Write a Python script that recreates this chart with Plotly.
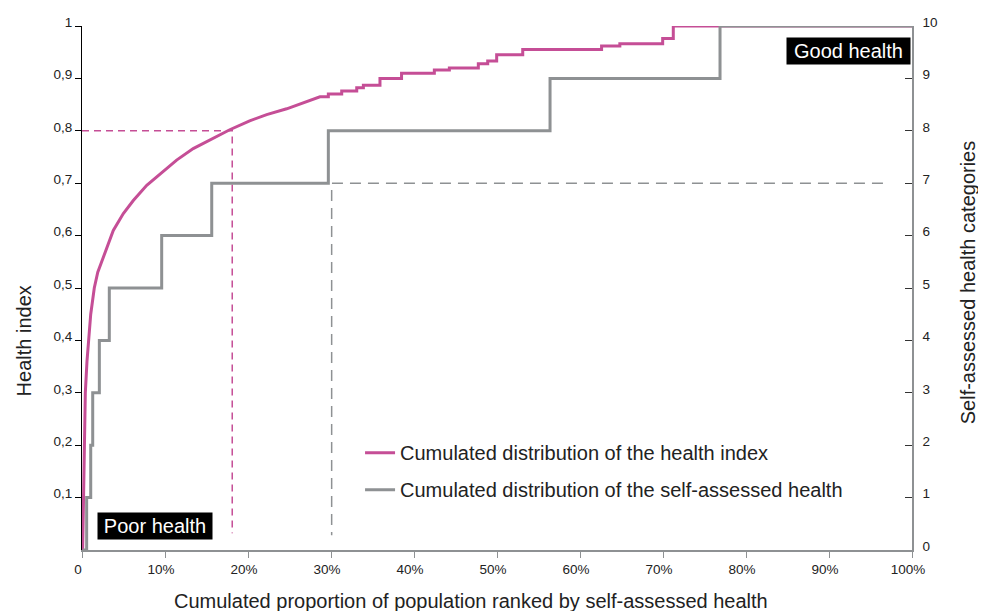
import plotly.graph_objects as go

# ---------------- data ----------------
# Health index cumulated distribution (smooth lower part): cumulated proportion, index value
hi_smooth_p = [0.0008, 0.0020, 0.0026, 0.0032, 0.0040, 0.0060, 0.0076, 0.0105, 0.0148, 0.0190,
               0.0237, 0.0298, 0.0377, 0.0498, 0.0618, 0.0780, 0.0940, 0.1140, 0.1340, 0.1540,
               0.1780, 0.2020, 0.2225, 0.2466, 0.2707]
hi_smooth_v = [0.000, 0.100, 0.200, 0.250, 0.300, 0.360, 0.400, 0.450, 0.500, 0.530,
               0.550, 0.575, 0.610, 0.642, 0.667, 0.696, 0.718, 0.744, 0.766, 0.782,
               0.802, 0.819, 0.831, 0.842, 0.855]
# Health index upper part (stepped): proportion at which the level starts, level
hi_step_p = [0.2867, 0.2968, 0.3129, 0.3310, 0.3390, 0.3590, 0.3850, 0.4245, 0.4426,
             0.4775, 0.4888, 0.4996, 0.5310, 0.6260, 0.6480, 0.6996, 0.7124, 1.0]
hi_step_v = [0.865, 0.870, 0.876, 0.882, 0.887, 0.900, 0.910, 0.916, 0.920,
             0.928, 0.933, 0.945, 0.955, 0.962, 0.966, 0.976, 1.000, 1.000]

# Self-assessed health categories: category and cumulated proportion boundaries
sah_categories = [0, 1, 2, 3, 4, 5, 6, 7, 8, 9, 10]
sah_bounds = [0.0008, 0.0056, 0.0105, 0.0129, 0.0209, 0.0329, 0.0960, 0.1563, 0.2968, 0.5639, 0.7687, 1.0]

# Reference (dashed) lines
pink_ref_x = [0.0, 0.181, 0.181]
pink_ref_y = [0.80, 0.80, 0.032]
grey_ref_x = [0.965, 0.3008, 0.3008]
grey_ref_y = [7.0, 7.0, 0.28]

x_tickvals = [0, 0.1, 0.2, 0.3, 0.4, 0.5, 0.6, 0.7, 0.8, 0.9, 1.0]
x_ticktext = ["0", "10%", "20%", "30%", "40%", "50%", "60%", "70%", "80%", "90%", "100%"]
y_tickvals = [0.1, 0.2, 0.3, 0.4, 0.5, 0.6, 0.7, 0.8, 0.9, 1.0]
y_ticktext = ["0,1", "0,2", "0,3", "0,4", "0,5", "0,6", "0,7", "0,8", "0,9", "1"]
y2_tickvals = [0, 1, 2, 3, 4, 5, 6, 7, 8, 9, 10]

PINK = "#c54e96"
GREY = "#8e9193"
FONT = "Liberation Sans, Arial, sans-serif"

# build pink curve vertices
hi_x = list(hi_smooth_p)
hi_y = list(hi_smooth_v)
for i in range(len(hi_step_p) - 1):
    hi_x += [hi_step_p[i], hi_step_p[i + 1]]
    hi_y += [hi_step_v[i], hi_step_v[i]]

# build grey step vertices
sah_x, sah_y = [], []
for i, c in enumerate(sah_categories):
    sah_x += [sah_bounds[i], sah_bounds[i + 1]]
    sah_y += [c, c]

fig = go.Figure()

fig.add_trace(go.Scatter(x=pink_ref_x, y=pink_ref_y, mode="lines", yaxis="y",
                         line=dict(color=PINK, width=1.5, dash="7px,5px"),
                         showlegend=False, hoverinfo="skip"))
fig.add_trace(go.Scatter(x=grey_ref_x, y=grey_ref_y, mode="lines", yaxis="y2",
                         line=dict(color=GREY, width=1.5, dash="11px,7px"),
                         showlegend=False, hoverinfo="skip"))
fig.add_trace(go.Scatter(x=hi_x, y=hi_y, mode="lines", yaxis="y",
                         name="Cumulated distribution of the health index",
                         line=dict(color=PINK, width=3), legendgroup="a"))
fig.add_trace(go.Scatter(x=sah_x, y=sah_y, mode="lines", yaxis="y2",
                         name="Cumulated distribution of the self-assessed health",
                         line=dict(color=GREY, width=3), legendgroup="b"))

fig.update_layout(
    width=986, height=611,
    margin=dict(l=74, r=82, t=18, b=69, pad=0, autoexpand=False),
    paper_bgcolor="white", plot_bgcolor="white",
    font=dict(family=FONT, size=13, color="#222"),
    xaxis=dict(range=[0, 1], tickvals=x_tickvals, ticktext=x_ticktext, automargin=False,
               showgrid=False, zeroline=False, showline=True, linecolor=GREY, linewidth=1.5,
               ticks="outside", ticklen=6, tickcolor=GREY, tickwidth=1,
               tickfont=dict(size=13.5, color="#222"), ticklabelshift=-4),
    yaxis=dict(range=[0, 1], tickvals=y_tickvals, ticktext=y_ticktext, automargin=False,
               showgrid=False, zeroline=False, showline=True, linecolor="#000", linewidth=1,
               ticks="outside", ticklen=6, tickcolor="#000", tickwidth=1,
               tickfont=dict(size=13.5, color="#222"), ticklabelshift=-4),
    yaxis2=dict(range=[0, 10], tickvals=y2_tickvals, overlaying="y", side="right", automargin=False,
                showgrid=False, zeroline=False, showline=True, linecolor=GREY, linewidth=1.5,
                ticks="inside", ticklen=7, tickcolor="#333", tickwidth=1,
                tickfont=dict(size=13.5, color="#222"), ticklabelshift=-4, ticklabelstandoff=6),
    legend=dict(x=0.335, y=0.223, xanchor="left", yanchor="top",
                bgcolor="rgba(0,0,0,0)", font=dict(size=20, color="#222"),
                tracegroupgap=8, itemwidth=30),
    showlegend=True,
)

fig.add_annotation(x=0.088, y=0.045, xref="paper", yref="paper", text="Poor health",
                   showarrow=False, bgcolor="#000", font=dict(color="white", size=20),
                   width=114, height=26, borderpad=0, xanchor="center", yanchor="middle")
fig.add_annotation(x=0.9233, y=0.9527, xref="paper", yref="paper", text="Good health",
                   showarrow=False, bgcolor="#000", font=dict(color="white", size=20),
                   width=123, height=26, borderpad=0, xanchor="center", yanchor="middle")
fig.add_annotation(x=-0.0699, y=0.400, xref="paper", yref="paper", text="Health index",
                   showarrow=False, textangle=-90, font=dict(size=20, color="#222"),
                   xanchor="center", yanchor="middle")
fig.add_annotation(x=1.0675, y=0.511, xref="paper", yref="paper", text="Self-assessed health categories",
                   showarrow=False, textangle=-90, font=dict(size=20, color="#222"),
                   xanchor="center", yanchor="middle")
fig.add_annotation(x=0.4687, y=-0.0975, xref="paper", yref="paper",
                   text="Cumulated proportion of population ranked by self-assessed health",
                   showarrow=False, font=dict(size=20, color="#222"),
                   xanchor="center", yanchor="middle")

fig.write_html("out.html")
